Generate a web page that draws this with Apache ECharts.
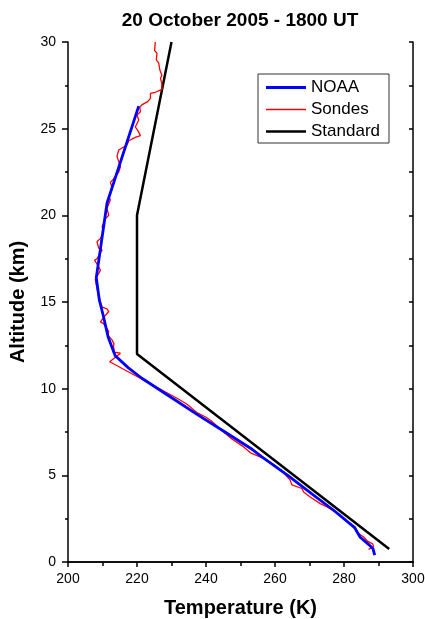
<!DOCTYPE html>
<html>
<head>
<meta charset="utf-8">
<script src="https://cdn.jsdelivr.net/npm/echarts@6/dist/echarts.min.js"></script>
<style>
  html, body { margin: 0; padding: 0; background: #fff; }
  #box { width: 425px; height: 619px; }
</style>
</head>
<body>
<div id="box"></div>
<script>
var chart = echarts.init(document.getElementById('box'));

// NOAA profile (temperature K, altitude km)
var noaaTemp = [288.9, 288.4, 287.1, 284.7, 283.0, 276.9, 270.2, 263.7, 256.0, 253.0, 245.5, 237.5, 229.5, 221.4, 217.5, 213.7, 213.4, 211.6, 210.3, 209.1, 208.2, 211.3, 220.5];
var noaaAlt  = [0.4,   0.77,  1.02,  1.43,  2.0,   3.0,   4.0,   5.0,   6.1,   6.55,  7.5,   8.5,   9.55,  10.6,  11.2,  11.9,  12.05, 13.0,  14.15, 15.1,  16.4,  20.7,  26.3];

// radiosonde profile
var sondeTemp = [287.1, 288.6, 288.3, 286.8, 285.7, 283.8, 283.3, 281.8, 279.0, 275.1, 273.1, 270.2, 268.3, 267.8, 264.9, 264.4, 262.0, 259.6, 256.7, 252.9, 250.5, 247.5, 244.5, 241.5, 240.0, 237.5, 234.5, 231.6,
  212.1, 215.2, 213.5, 213.2, 213.3, 212.8, 211.5, 211.8, 210.3, 209.4, 210.3, 211.8, 211.3, 209.9, 208.9, 208.4, 207.9, 208.9, 209.4, 208.4, 207.7, 208.4, 209.9, 208.9, 208.4, 209.4, 210.3, 209.9, 210.8, 211.8, 211.3, 212.3, 211.8, 212.8, 212.3, 213.2, 214.7, 215.2, 214.7, 214.2, 214.7, 217.1, 217.6, 219.5, 221.0, 220.2, 219.5, 219.8, 220.5, 220.0, 221.0, 220.8, 221.4, 223.1, 223.9, 223.9, 225.3, 227.2, 227.2, 226.8, 227.2, 226.6, 226.3, 225.6, 225.8, 225.1, 225.3];
var sondeAlt  = [0.73,  0.87,  1.05,  1.2,   1.44,  1.7,   2.0,   2.2,   2.7,   3.18,  3.37,  3.75,  4.04,  4.24,  4.45,  4.72,  5.25,  5.62,  5.97,  6.3,   6.7,   7.1,   7.6,   8.15,  8.35,  8.6,   9.1,   9.45,
  11.55, 12.05, 12.1,  12.4,  12.6,  12.8,  13.1,  13.3,  13.75, 13.85, 14.1,  14.45, 14.6,  14.7,  15.3,  15.8,  16.3,  16.65, 16.84, 17.2,  17.4,  17.5,  18.0,  18.1,  18.48, 18.67, 19.05, 19.34, 19.8,  20.0,  20.4,  20.9,  21.07, 21.55, 21.9,  22.1,  22.5,  22.8,  23.1,  23.4,  23.77, 24.06, 24.3,  24.5,  24.6,  24.9,  25.1,  25.2,  25.5,  25.79, 25.98, 26.23, 26.37, 26.56, 26.75, 27.04, 27.1,  27.27, 27.6,  27.9,  28.1,  28.4,  28.78, 28.97, 29.35, 29.5,  30.0];

// standard atmosphere
var stdTemp = [293.1, 220, 220, 230];
var stdAlt  = [0.75, 12, 20, 30];

function pairs(t, h) {
  return t.map(function(v, i) { return [v, h[i]]; });
}

var font = 'Liberation Sans, Arial, sans-serif';

var option = {
  animation: false,
  title: {
    text: '20 October 2005 - 1800 UT',
    left: 235,
    top: 6,
    textAlign: 'center',
    textStyle: { fontFamily: font, fontSize: 19, fontWeight: 'bold', color: '#000' }
  },
  legend: {
    orient: 'vertical',
    left: 258,
    top: 74,
    padding: [5, 9, 3, 8],
    itemWidth: 40,
    itemHeight: 14,
    itemGap: 5,
    itemTextGap: 4,
    symbolKeepAspect: true,
    borderColor: '#333',
    borderWidth: 1,
    textStyle: { fontFamily: font, fontSize: 17, color: '#000' },
    data: [
      { name: 'NOAA', icon: 'path://M0,0H40V3H0Z' },
      { name: 'Sondes', icon: 'path://M0,0H40V1.4H0Z' },
      { name: 'Standard', icon: 'path://M0,0H40V2.5H0Z' }
    ]
  },
  grid: { left: 68, right: 12, top: 42, bottom: 57, outerBoundsMode: 'none' },
  xAxis: [{
    type: 'value', min: 200, max: 300, interval: 20,
    position: 'bottom',
    name: 'Temperature (K)', nameLocation: 'middle', nameGap: 36,
    nameTextStyle: { fontFamily: font, fontSize: 20, fontWeight: 'bold', color: '#000' },
    axisLine: { lineStyle: { color: '#000', width: 1.5 } },
    axisTick: { inside: false, length: 5, lineStyle: { color: '#000', width: 1.5 } },
    minorTick: { show: true, splitNumber: 2, length: 3, lineStyle: { color: '#000', width: 1.5 } },
    axisLabel: { fontFamily: font, fontSize: 14, color: '#000', margin: 10 },
    splitLine: { show: false }
  }, {
    type: 'value', min: 200, max: 300, interval: 10,
    position: 'top',
    axisLine: { lineStyle: { color: '#000', width: 1.5 } },
    axisTick: { inside: true, length: 4, lineStyle: { color: '#000', width: 1.5 } },
    axisLabel: { show: false },
    splitLine: { show: false }
  }],
  yAxis: [{
    type: 'value', min: 0, max: 30, interval: 5,
    position: 'left',
    name: 'Altitude (km)', nameLocation: 'middle', nameGap: 40,
    nameTextStyle: { fontFamily: font, fontSize: 20, fontWeight: 'bold', color: '#000' },
    axisLine: { lineStyle: { color: '#000', width: 1.5 } },
    axisTick: { inside: false, length: 6, lineStyle: { color: '#000', width: 1.5 } },
    minorTick: { show: true, splitNumber: 2, length: 3, lineStyle: { color: '#000', width: 1.5 } },
    axisLabel: { fontFamily: font, fontSize: 14, color: '#000', margin: 12 },
    splitLine: { show: false }
  }, {
    type: 'value', min: 0, max: 30, interval: 2.5,
    position: 'right',
    axisLine: { lineStyle: { color: '#000', width: 1.5 } },
    axisTick: { inside: true, length: 4, lineStyle: { color: '#000', width: 1.5 } },
    axisLabel: { show: false },
    splitLine: { show: false }
  }],
  series: [{
    name: 'Standard', type: 'line', symbol: 'none',
    xAxisIndex: 0, yAxisIndex: 0,
    lineStyle: { color: '#000', width: 2.5 },
    itemStyle: { color: '#000' },
    data: pairs(stdTemp, stdAlt)
  }, {
    name: 'Sondes', type: 'line', symbol: 'none',
    xAxisIndex: 0, yAxisIndex: 0,
    lineStyle: { color: '#ff0000', width: 1.3 },
    itemStyle: { color: '#ff0000' },
    data: pairs(sondeTemp, sondeAlt)
  }, {
    name: 'NOAA', type: 'line', symbol: 'none',
    xAxisIndex: 0, yAxisIndex: 0,
    lineStyle: { color: '#0000ff', width: 2.8 },
    itemStyle: { color: '#0000ff' },
    data: pairs(noaaTemp, noaaAlt)
  }]
};

chart.setOption(option);
</script>
</body>
</html>
